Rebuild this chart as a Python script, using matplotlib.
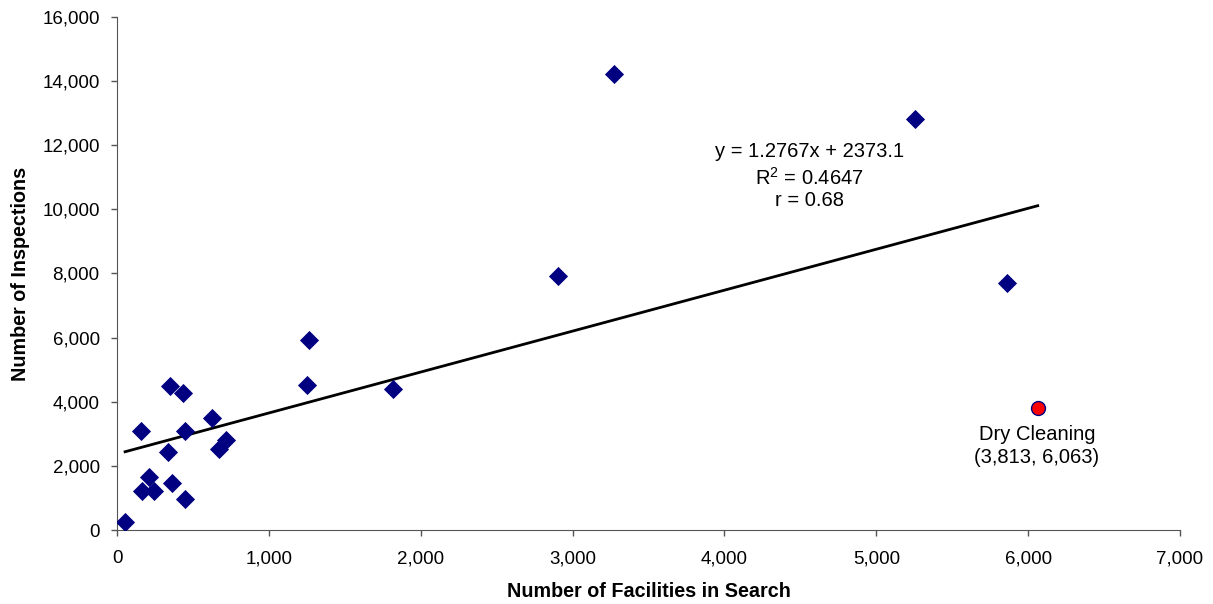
import matplotlib
matplotlib.use('Agg')
import matplotlib.pyplot as plt
from matplotlib.ticker import FuncFormatter

# facilities in search vs inspections
facilities = [53, 162, 244, 211, 158, 336, 351, 432, 360, 450, 446, 623, 674, 718,
              1264, 1253, 1819, 2903, 3272, 5253, 5859]
inspections = [240, 1207, 1207, 1643, 3088, 2433, 4491, 4283, 1476, 967, 3098, 3494,
               2517, 2807, 5926, 4523, 4398, 7923, 14220, 12830, 7704]

dry_x, dry_y = 6063, 3813
slope, intercept = 1.2767, 2373.1

plt.rcParams['font.family'] = ['Liberation Sans', 'DejaVu Sans']

fig = plt.figure(figsize=(12.13, 6.04), dpi=100)
ax = fig.add_axes([0.0965, 0.1225, 0.8763, 0.8494])

ax.scatter(facilities, inspections, marker='D', s=95, color='#000080', zorder=3, linewidths=0)

x_line = [min(facilities), dry_x]
y_line = [slope * v + intercept for v in x_line]
ax.plot(x_line, y_line, color='black', lw=2, zorder=2)

ax.plot([dry_x], [dry_y], marker='o', markersize=10, color='red',
        markeredgecolor='#000080', markeredgewidth=1, zorder=4)

ax.text(4560, 11820, 'y = 1.2767x + 2373.1', ha='center', va='center', fontsize=14.5)
ax.text(4560, 10980, '$\\mathregular{R^2}$ = 0.4647', ha='center', va='center', fontsize=14.5)
ax.text(4560, 10262, 'r = 0.68', ha='center', va='center', fontsize=14.5)
ax.text(6057, 2994, 'Dry Cleaning', ha='center', va='center', fontsize=14.5)
ax.text(6057, 2246, '(3,813, 6,063)', ha='center', va='center', fontsize=14.5)

ax.set_xlim(0, 7000)
ax.set_ylim(0, 16000)
ax.set_xticks(range(0, 7001, 1000))
ax.set_yticks(range(0, 16001, 2000))
fmt = FuncFormatter(lambda v, p: f'{int(v):,}')
ax.xaxis.set_major_formatter(fmt)
ax.yaxis.set_major_formatter(fmt)
ax.tick_params(direction='out', length=4.5, width=1, labelsize=13.5, color='#555555')
ax.tick_params(axis='x', pad=10)
ax.tick_params(axis='y', pad=8)

for s in ['top', 'right']:
    ax.spines[s].set_visible(False)
for s in ['left', 'bottom']:
    ax.spines[s].set_color('#555555')

ax.set_xlabel('Number of Facilities in Search', fontsize=14.2, fontweight='bold', labelpad=11)
ax.set_ylabel('Number of Inspections', fontsize=14.2, fontweight='bold', labelpad=9)

fig.savefig('out.png', dpi=100)
